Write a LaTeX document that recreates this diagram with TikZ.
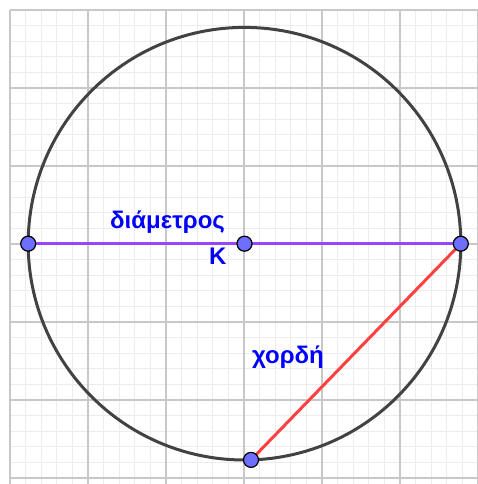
\documentclass[tikz,border=0pt]{standalone}
\usepackage{fontspec}
\setmainfont{Liberation Sans}
\definecolor{gmajor}{RGB}{200,200,200}
\definecolor{gminor}{RGB}{236,236,236}
\definecolor{circcol}{RGB}{66,66,66}
\definecolor{diamcol}{RGB}{150,70,255}
\definecolor{chordcol}{RGB}{255,64,64}
\definecolor{ptfill}{RGB}{110,110,255}
\definecolor{txtblue}{RGB}{0,0,255}
\pgfdeclarelayer{bg}
\pgfdeclarelayer{mid}
\pgfsetlayers{bg,mid,main}
\tikzset{
  minorline/.style={gminor, line width=0.9pt},
  majorline/.style={gmajor, line width=1.1pt},
  circline/.style={circcol, line width=3pt},
  diamline/.style={diamcol, line width=3pt},
  chordline/.style={chordcol, line width=3pt},
  ptnode/.style={circle, draw=black, line width=1.2pt, fill=ptfill, minimum size=15pt, inner sep=0pt},
  lbl/.style={text=txtblue, font=\fontsize{24}{28}\selectfont\bfseries, inner sep=0pt, anchor=base west}
}
\begin{document}
\begin{tikzpicture}[x=1pt,y=-1pt]
\useasboundingbox (0,0) rectangle (478,484);
\begin{pgfonlayer}{bg}
\fill[white] (0,0) rectangle (478,484);
\foreach \i in {0,...,30} {
  \draw[minorline] ({10+15.6*\i},10) -- ({10+15.6*\i},484);
  \draw[minorline] (10,{10+15.6*\i}) -- (478,{10+15.6*\i});
}
\foreach \i in {0,...,6} {
  \draw[majorline] ({10+78*\i},10) -- ({10+78*\i},484);
  \draw[majorline] (10,{10+78*\i}) -- (478,{10+78*\i});
}
\end{pgfonlayer}
\node[ptnode] (K) at (244.5,243.7) {};
\node[ptnode] (A) at (28.2,243.7) {};
\node[ptnode] (B) at (460.8,243.7) {};
\node[ptnode] (C) at (251,459.9) {};
\begin{pgfonlayer}{bg}
\draw[circline] (K.center) circle[radius=216.3];
\end{pgfonlayer}
\begin{pgfonlayer}{mid}
\draw[diamline] (A.center) -- (B.center);
\draw[chordline] (C.center) -- (B.center);
\end{pgfonlayer}
\node[lbl] (ldiam) at (110,228) {διάμετρος};
\node[lbl] (lK) at (209,264) {K};
\node[lbl] (lchord) at (252,363) {χορδή};
\end{tikzpicture}
\end{document}
